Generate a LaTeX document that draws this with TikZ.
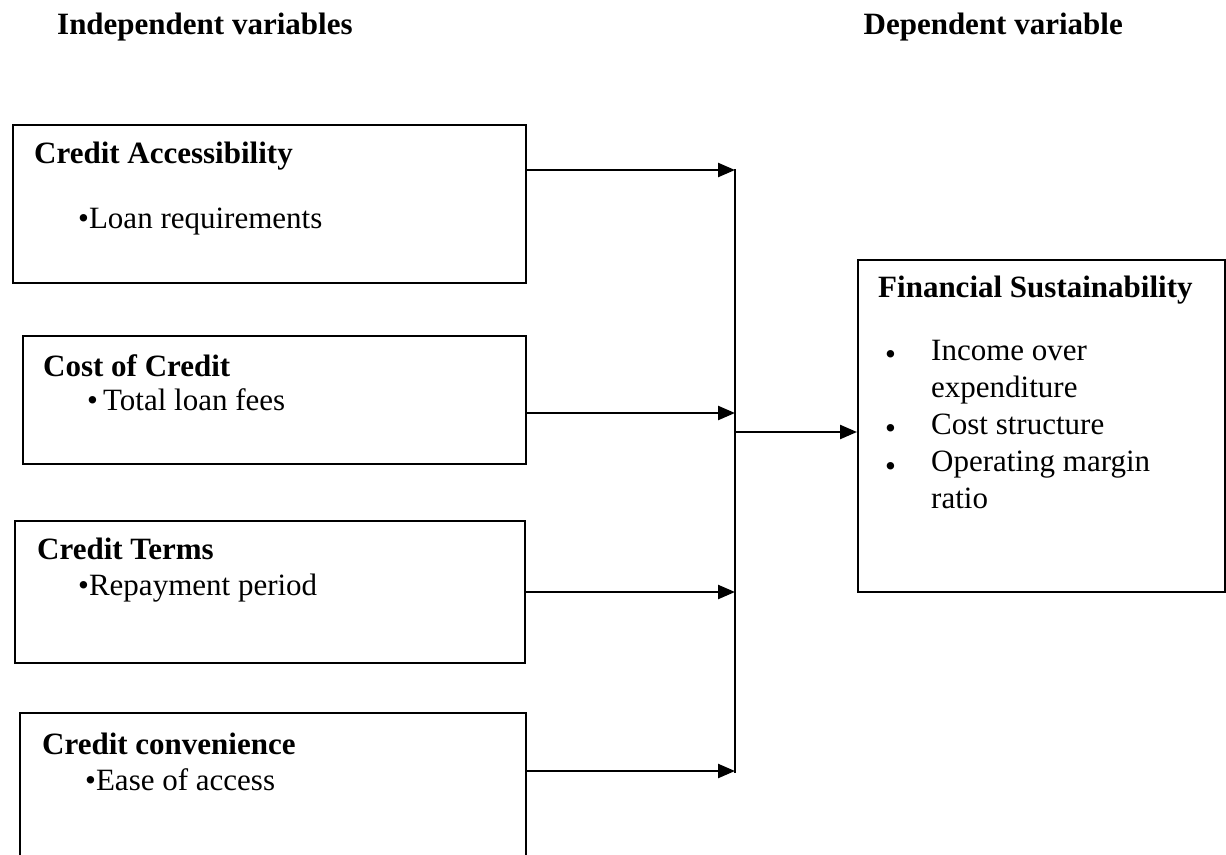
\documentclass[tikz,border=0pt]{standalone}
\usepackage{fontspec}
\setmainfont{Liberation Serif}
\usetikzlibrary{arrows.meta,positioning}
\newcommand{\diagfont}{\fontsize{31}{37}\selectfont}
\tikzset{
    varbox/.style={draw, line width=1.6pt, inner sep=0pt, anchor=north west},
    conn/.style={line width=2.4pt, -{Triangle[length=17pt,width=14pt]}},
    ttl/.style={font=\diagfont\bfseries, anchor=west, inner sep=0pt},
    itm/.style={font=\diagfont, anchor=west, inner sep=0pt},
}
\begin{document}
\begin{tikzpicture}[x=1pt,y=-1pt]
        \useasboundingbox (0,0) rectangle (1226,854);
        \def\jx{735}
        %% headers
        \node[ttl] (hind) at (57,27) {Independent variables};
        \node[ttl,anchor=east] (hdep) at (1123,27) {Dependent variable};
        %% independent variable boxes
        \node[varbox,minimum width=513pt,minimum height=158pt] (acc) at (12,124) {};
        \node[varbox,minimum width=503pt,minimum height=128pt] (cost) at (22,335) {};
        \node[varbox,minimum width=510pt,minimum height=142pt] (terms) at (14,520) {};
        \node[varbox,minimum width=506pt,minimum height=150pt] (conv) at (19,712) {};
        \node[ttl] (acct) at (34,156) {Credit Accessibility};
        \node[itm] (acci) at (78,222) {\textbullet Loan requirements};
        \node[ttl] (costt) at (43,366) {Cost of Credit};
        \node[itm] (costi) at (87,400) {\textbullet\,Total loan fees};
        \node[ttl] (termst) at (37,549) {Credit Terms};
        \node[itm] (termsi) at (78,588) {\textbullet Repayment period};
        \node[ttl] (convt) at (42,744) {Credit convenience};
        \node[itm] (convi) at (85,780) {\textbullet Ease of access};
        %% dependent variable box
        \node[varbox,minimum width=367pt,minimum height=332pt] (fin) at (857,259) {};
        \node[ttl] (fint) at (878,290) {Financial Sustainability};
        \foreach \y/\nm in {358/b1,432/b2,470/b3}
            \node[itm] (\nm) at (885,\y) {\textbullet};
        \node[itm,anchor=north west,align=left] (fini) at (931,340)
            {Income over\\expenditure\\Cost structure\\Operating margin\\ratio};
        %% connectors
        \coordinate (jtop) at (\jx,169);
        \coordinate (jbot) at (\jx,773);
        \draw[line width=1.6pt] (jtop) -- (jbot);
        \foreach \src/\y in {acc/170,cost/413,terms/592,conv/771} {
            \coordinate (j\src) at (\jx,\y);
            \draw[conn] (\src.east |- j\src) -- (j\src);
        }
        \coordinate (jout) at (\jx,432);
        \draw[conn] (jout) -- (fin.west |- jout);
    \end{tikzpicture}
\end{document}
